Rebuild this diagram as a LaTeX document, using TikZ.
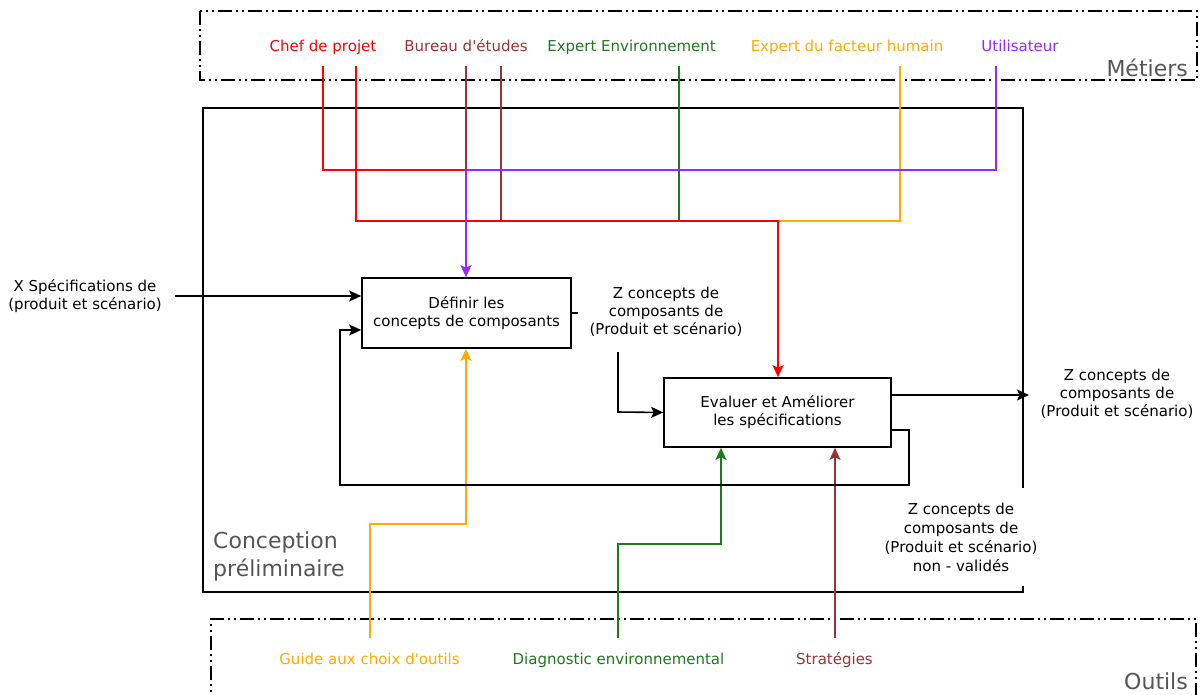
\documentclass[tikz,border=0pt]{standalone}
\usepackage{fontspec}
\setmainfont{DejaVu Sans}
\usetikzlibrary{arrows.meta,calc}
\definecolor{cred}{RGB}{255,0,0}
\definecolor{cbrown}{RGB}{153,51,51}
\definecolor{cgreen}{RGB}{30,120,30}
\definecolor{corange}{RGB}{255,170,0}
\definecolor{cpurple}{RGB}{155,40,240}
\definecolor{cgray}{RGB}{85,85,85}
\begin{document}
\begin{tikzpicture}[x=1pt,y=-1pt,
  font=\fontsize{15}{18}\selectfont,
  box/.style={draw, line width=1.7pt, inner sep=0pt, align=center},
  lbl/.style={inner sep=0pt, anchor=base},
  txt/.style={inner sep=0pt, align=center},
  big/.style={inner sep=0pt, text=cgray, font=\fontsize{22}{28}\selectfont},
  wire/.style={line width=1.6pt},
  arr/.style={line width=1.6pt, -{Stealth[length=12pt,width=11pt,inset=2.5pt]}},
  frame/.style={line width=1.6pt, dash pattern=on 14pt off 4pt on 2pt off 4pt on 2pt off 4pt}
]
\useasboundingbox (0,0) rectangle (1200,694);

% frames
\draw[frame] (200,11) rectangle (1197,80);
\draw[frame] (211,710) -- (211,619) -- (1196,619) -- (1196,710);
\draw[line width=1.7pt] (1023,488) -- (1023,108) -- (203,108) -- (203,592) -- (1023,592) -- (1023,586);

\node[big, anchor=base east] (metiers) at (1188,76) {Métiers};
\node[big, anchor=base east] (outils) at (1188,689) {Outils};
\node[big, anchor=north west, align=left] (concep) at (213,532) {Conception\\préliminaire};

% top labels
\node[lbl, text=cred] (chef) at (323,51) {Chef de projet};
\node[lbl, text=cbrown] (bureau) at (466,51) {Bureau d\textquotesingle études};
\node[lbl, text=cgreen] (envexp) at (631.5,51) {Expert Environnement};
\node[lbl, text=corange] (humain) at (847,51) {Expert du facteur humain};
\node[lbl, text=cpurple] (util) at (1020,51) {Utilisateur};

% bottom labels
\node[lbl, text=corange] (guide) at (369.5,664) {Guide aux choix d\textquotesingle outils};
\node[lbl, text=cgreen] (diag) at (618.5,664) {Diagnostic environnemental};
\node[lbl, text=cbrown] (strat) at (834.5,664) {Stratégies};

% boxes
\node[box, minimum width=209pt, minimum height=70pt] (def) at (466.5,313) {Définir les\\concepts de composants};
\node[box, minimum width=227pt, minimum height=69pt] (ev) at (777.5,412.5) {Evaluer et Améliorer\\les spécifications};

% text labels
\node[txt] (xin) at (85,296) {X Spécifications de\\(produit et scénario)};
\node[txt] (zmid) at (666,312) {Z concepts de\\composants de\\(Produit et scénario)};
\node[txt] (zout) at (1117,394) {Z concepts de\\composants de\\(Produit et scénario)};
\node[txt, font=\fontsize{15}{19}\selectfont] (znv) at (961,537) {Z concepts de\\composants de\\(Produit et scénario)\\non - validés};

% start coordinates
\coordinate (c1) at (323,66);
\coordinate (c2) at (356,66);
\coordinate (b1) at (466,66);
\coordinate (b2) at (501,66);
\coordinate (e1) at (679,66);
\coordinate (h1) at (900,66);
\coordinate (u1) at (996,66);
\coordinate (g1) at (370,638);
\coordinate (d1) at (618,638);
\coordinate (s1) at (835,638);
\coordinate (xs) at (175,296);
\coordinate (zs) at (618,352);
\coordinate (outtip) at (1029,395);

% top wires
\draw[wire, cred] (c1) -- (323,170) -- (466,170);
\draw[wire, cbrown] (b1) -- (466,170);
\draw[wire, cbrown] (b2) -- (501,221);
\draw[wire, cgreen] (e1) -- (679,221);
\draw[wire, corange] (h1) -- (900,221) -- (778,221);
\draw[arr, cred] (c2) -- (356,221) -- (778,221) -- (ev.north -| 778,0);
\draw[arr, cpurple] (u1) -- (996,170) -- (466,170) -- (def.north -| 466,0);

% bottom wires
\draw[arr, corange] (g1) -- (370,524) -- (466,524) -- (def.south -| 466,0);
\draw[arr, cgreen] (d1) -- (618,544) -- (721,544) -- (ev.south -| 721,0);
\draw[arr, cbrown] (s1) -- (ev.south -| 835,0);

% black flows
\draw[arr] (xs) -- (def.west |- 0,296);
\draw[wire] (def.east) -- ++(6,0);
\draw[arr] (zs) -- (618,412) -- (ev.west);
\draw[arr] (ev.east |- 0,395) -- (outtip);
\draw[arr] (ev.east |- 0,430) -- (909,430) -- (909,485) -- (340,485) -- (340,330) -- (def.west |- 0,330);
\end{tikzpicture}
\end{document}
